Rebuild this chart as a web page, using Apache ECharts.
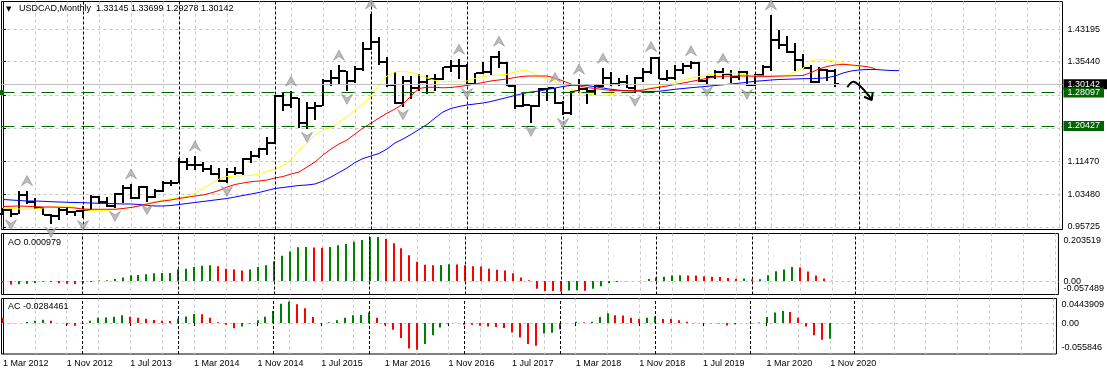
<!DOCTYPE html>
<html><head><meta charset="utf-8">
<script src="https://cdn.jsdelivr.net/npm/echarts@6/dist/echarts.min.js"></script>
<style>html,body{margin:0;padding:0;background:#fff}#c{width:1107px;height:368px}</style>
</head><body><div id="c"></div>
<script>
// ---- data (monthly bars, index 0 = Mar 2012 ... 104 = Nov 2020) ----
const symbolName = 'USDCAD,Monthly';
const timeLabels = ['1 Mar 2012','1 Nov 2012','1 Jul 2013','1 Mar 2014','1 Nov 2014','1 Jul 2015','1 Mar 2016','1 Nov 2016','1 Jul 2017','1 Mar 2018','1 Nov 2018','1 Jul 2019','1 Mar 2020','1 Nov 2020'];
const open = [
0.9890,0.9975,0.9876,1.0339,1.0182,1.0028,0.9865,0.9834,0.9992,0.9930,
0.9950,0.9975,1.0302,1.0162,1.0080,1.0365,1.0517,1.0271,1.0540,1.0301,
1.0428,1.0618,1.0634,1.1139,1.1071,1.1054,1.0962,1.0852,1.0672,1.0903,
1.0875,1.1198,1.1272,1.1436,1.1601,1.2707,1.2504,1.2666,1.2064,1.2436,
1.2488,1.3077,1.3162,1.3320,1.3080,1.3355,1.3840,1.4015,1.3530,1.2988,
1.2550,1.3088,1.2915,1.3060,1.3117,1.3116,1.3415,1.3430,1.3430,1.3012,
1.3280,1.3300,1.3650,1.3503,1.2969,1.2468,1.2495,1.2478,1.2893,1.2900,
1.2560,1.2300,1.2830,1.2885,1.2840,1.2960,1.3150,1.3010,1.3050,1.2910,
1.3160,1.3290,1.3640,1.3130,1.3155,1.3350,1.3430,1.3510,1.3090,1.3180,
1.3295,1.3240,1.3170,1.3285,1.2985,1.3230,1.3420,1.4070,1.3935,1.3770,
1.3580,1.3400,1.3050,1.3335,1.33145];
const high = [
1.0030,1.0020,1.0445,1.0447,1.0275,1.0043,0.9890,1.0020,1.0029,0.9962,
1.0068,1.0335,1.0310,1.0295,1.0389,1.0578,1.0608,1.0560,1.0545,1.0483,
1.0680,1.0700,1.1224,1.1225,1.1279,1.1136,1.1054,1.1000,1.0986,1.1025,
1.1220,1.1386,1.1467,1.1728,1.2735,1.2800,1.2835,1.2676,1.2563,1.2563,
1.3117,1.3350,1.3457,1.3320,1.3440,1.4003,1.4690,1.4130,1.3650,1.3290,
1.3190,1.3210,1.3250,1.3220,1.3250,1.3420,1.3590,1.3600,1.3480,1.3280,
1.3535,1.3690,1.3793,1.3540,1.3000,1.2775,1.2500,1.2915,1.2918,1.2922,
1.2590,1.2840,1.3125,1.2940,1.3000,1.3385,1.3290,1.3160,1.3230,1.3170,
1.3390,1.3665,1.3664,1.3340,1.3470,1.3520,1.3565,1.3530,1.3210,1.3345,
1.3382,1.3350,1.3320,1.3320,1.3240,1.3467,1.4667,1.4300,1.4170,1.3990,
1.3715,1.3455,1.3420,1.3370,1.33699];
const low = [
0.9865,0.9820,0.9874,1.0118,1.0003,0.9853,0.9633,0.9737,0.9860,0.9830,
0.9800,0.9970,1.0132,1.0060,1.0020,1.0142,1.0247,1.0240,1.0180,1.0260,
1.0413,1.0560,1.0620,1.0952,1.0952,1.0897,1.0814,1.0650,1.0620,1.0820,
1.0810,1.1110,1.1230,1.1300,1.1570,1.2353,1.2431,1.1940,1.1920,1.2130,
1.2480,1.2950,1.3008,1.2832,1.3030,1.3327,1.3825,1.3470,1.2940,1.2525,
1.2461,1.2653,1.2830,1.2770,1.2850,1.3100,1.3300,1.3120,1.2970,1.3000,
1.3250,1.3220,1.3400,1.2950,1.2414,1.2447,1.2062,1.2450,1.2600,1.2520,
1.2250,1.2260,1.2790,1.2528,1.2730,1.2944,1.2960,1.2960,1.2900,1.2785,
1.3050,1.3240,1.3120,1.3070,1.3110,1.3250,1.3375,1.3060,1.3015,1.3135,
1.3135,1.3042,1.3110,1.2950,1.2955,1.3200,1.3320,1.3850,1.3760,1.3315,
1.3380,1.3040,1.3040,1.3081,1.29278];
const close = [
0.9975,0.9876,1.0339,1.0182,1.0028,0.9865,0.9834,0.9992,0.9930,0.9950,
0.9975,1.0302,1.0162,1.0080,1.0365,1.0517,1.0271,1.0540,1.0301,1.0428,
1.0618,1.0634,1.1139,1.1071,1.1054,1.0962,1.0852,1.0672,1.0903,1.0875,
1.1198,1.1272,1.1436,1.1601,1.2707,1.2504,1.2666,1.2064,1.2436,1.2488,
1.3077,1.3162,1.3320,1.3080,1.3355,1.3840,1.4015,1.3530,1.2988,1.2550,
1.3088,1.2915,1.3060,1.3117,1.3116,1.3415,1.3430,1.3430,1.3012,1.3280,
1.3300,1.3650,1.3503,1.2969,1.2468,1.2495,1.2478,1.2893,1.2900,1.2560,
1.2300,1.2830,1.2885,1.2840,1.2960,1.3150,1.3010,1.3050,1.2910,1.3160,
1.3290,1.3640,1.3130,1.3155,1.3350,1.3430,1.3510,1.3090,1.3180,1.3295,
1.3240,1.3170,1.3285,1.2985,1.3230,1.3420,1.4070,1.3935,1.3770,1.3580,
1.3400,1.3050,1.3335,1.3315,1.30142];
// Alligator lines (extend into the future)
const jaw = [
1.0233,1.0221,1.0209,1.0197,1.0197,1.0190,1.0180,1.0173,1.0166,1.0161,
1.0156,1.0149,1.0142,1.0137,1.0132,1.0125,1.0125,1.0113,1.0094,1.0077,
1.0077,1.0089,1.0113,1.0137,1.0161,1.0185,1.0209,1.0233,1.0257,1.0293,
1.0329,1.0365,1.0401,1.0449,1.0497,1.0521,1.0545,1.0569,1.0581,1.0605,
1.0677,1.0773,1.0881,1.0989,1.1121,1.1217,1.1277,1.1337,1.1446,1.1590,
1.1686,1.1794,1.1914,1.2034,1.2190,1.2334,1.2418,1.2466,1.2502,1.2526,
1.2550,1.2586,1.2634,1.2682,1.2730,1.2778,1.2814,1.2838,1.2874,1.2910,
1.2946,1.2975,1.2982,1.2970,1.2941,1.2910,1.2879,1.2857,1.2845,1.2838,
1.2831,1.2826,1.2831,1.2855,1.2879,1.2898,1.2917,1.2934,1.2951,1.2970,
1.2987,1.3006,1.3025,1.3047,1.3071,1.3085,1.3102,1.3114,1.3121,1.3126,
1.3133,1.3138,1.3143,1.3157,1.3198,1.3270,1.3318,1.3342,1.3354,1.3354,
1.3342,1.3330,1.3326];
const teeth = [
1.0065,1.0070,1.0077,1.0070,1.0060,1.0053,1.0053,1.0046,1.0041,1.0029,
1.0005,0.9998,0.9998,0.9998,0.9998,1.0017,1.0041,1.0077,1.0125,1.0166,
1.0197,1.0221,1.0257,1.0286,1.0317,1.0341,1.0389,1.0449,1.0533,1.0593,
1.0629,1.0660,1.0677,1.0701,1.0749,1.0785,1.0845,1.0893,1.1013,1.1133,
1.1301,1.1445,1.1565,1.1662,1.1806,1.1950,1.2063,1.2190,1.2303,1.2406,
1.2526,1.2718,1.2898,1.2927,1.2927,1.2915,1.2922,1.2946,1.2970,1.3006,
1.3042,1.3079,1.3103,1.3127,1.3162,1.3191,1.3198,1.3198,1.3198,1.3150,
1.3079,1.3006,1.2958,1.2922,1.2898,1.2874,1.2850,1.2845,1.2845,1.2850,
1.2862,1.2898,1.2927,1.2958,1.2994,1.3030,1.3066,1.3103,1.3143,1.3174,
1.3191,1.3196,1.3200,1.3198,1.3192,1.3188,1.3190,1.3195,1.3200,1.3205,
1.3210,1.3282,1.3366,1.3426,1.3462,1.3479,1.3462,1.3446,1.3422,1.3378];
const lips = [
1.0022,1.0017,1.0005,0.9998,1.0005,1.0029,1.0053,1.0070,1.0077,1.0053,
0.9993,0.9969,0.9964,0.9974,0.9993,1.0017,1.0046,1.0077,1.0125,1.0173,
1.0221,1.0252,1.0281,1.0305,1.0389,1.0497,1.0617,1.0725,1.0785,1.0797,
1.0802,1.0809,1.0845,1.0905,1.0965,1.1049,1.1181,1.1422,1.1590,1.1782,
1.1902,1.1962,1.2094,1.2214,1.2382,1.2526,1.2718,1.2982,1.3198,1.3294,
1.3318,1.3282,1.3222,1.3150,1.3090,1.3066,1.3061,1.3061,1.3078,1.3138,
1.3186,1.3210,1.3222,1.3239,1.3294,1.3342,1.3294,1.3186,1.3138,1.3066,
1.2946,1.2862,1.2814,1.2778,1.2735,1.2730,1.2754,1.2778,1.2807,1.2838,
1.2874,1.2922,1.2946,1.2994,1.3037,1.3102,1.3150,1.3186,1.3222,1.3246,
1.3258,1.3263,1.3246,1.3222,1.3205,1.3198,1.3198,1.3210,1.3222,1.3294,
1.3390,1.3558,1.3594,1.3582,1.3558,1.3498,1.3462,1.3421];
// Awesome / Accelerator oscillators
const ao = [
-0.006,-0.015,-0.014,-0.012,-0.008,-0.003,-0.004,-0.009,-0.012,-0.013,
-0.009,-0.004,0.002,0.004,0.009,0.015,0.025,0.026,0.029,0.033,
0.034,0.0345,0.050,0.053,0.060,0.065,0.068,0.063,0.053,0.050,
0.045,0.050,0.060,0.068,0.085,0.108,0.127,0.145,0.146,0.144,
0.143,0.146,0.153,0.159,0.168,0.176,0.187,0.189,0.181,0.162,
0.140,0.110,0.083,0.070,0.068,0.069,0.072,0.071,0.068,0.063,
0.062,0.053,0.048,0.045,0.033,0.015,0.003,-0.033,-0.042,-0.043,
-0.045,-0.040,-0.0395,-0.041,-0.033,-0.022,-0.008,-0.004,-0.001,0.0005,
0.001,0.009,0.015,0.018,0.024,0.025,0.024,0.0235,0.021,0.018,
0.0175,0.013,0.010,0.0105,0.007,0.0075,0.025,0.042,0.050,0.060,
0.058,0.041,0.024,0.011,0.000979];
const ac = [
0.0095,-0.0005,0.0000,0.002,0.004,0.006,0.004,0.000,-0.0025,-0.005,
-0.001,0.004,0.0095,0.010,0.0114,0.014,0.0114,0.0095,0.0076,0.0057,
0.0044,0.0038,0.008,0.012,0.0165,0.016,0.0095,0.0013,-0.003,-0.0095,
-0.006,-0.0006,0.005,0.0114,0.022,0.035,0.039,0.034,0.027,0.011,
-0.0002,0.0013,0.005,0.0095,0.014,0.0145,0.019,0.0095,-0.003,-0.012,
-0.027,-0.046,-0.048,-0.038,-0.022,-0.008,-0.001,0.0005,-0.003,-0.0032,
-0.005,-0.006,-0.007,-0.009,-0.017,-0.026,-0.038,-0.041,-0.019,-0.0176,
-0.011,0.000,0.0025,0.001,0.0025,0.011,0.0176,0.014,0.0138,0.0095,
0.0075,0.0095,0.012,0.0075,0.0074,0.005,0.0025,0.0005,-0.0002,-0.0005,
-0.0007,-0.0045,-0.002,0.0002,-0.0003,0.001,0.011,0.019,0.022,0.020,
0.0095,-0.0063,-0.022,-0.030,-0.0284461];
const fractalUp = [3,16,24,36,42,46,57,62,69,72,75,81,86,90,96];
const fractalDown = [1,6,10,14,18,28,38,43,50,58,66,70,79,88,93];
const separators = [10,22,34,46,58,70,82,94,107];
const priceTicks = [1.43195,1.35440,1.27430,1.19460,1.11470,1.03480,0.95725];
const levels = [1.28097,1.20427];
const lastPrice = 1.30142;
const aoTickLabels = ['0.203519','0.00','-0.057489'];
const acTickLabels = ['0.0443909','0.00','-0.055846'];
const arrowPath = [[105.54,1.2927],[106.29,1.3061],[107.13,1.2958],[108.16,1.2742],[108.59,1.2622]];
const arrowHead = [[107.63,1.2701],[108.59,1.2622],[108.71,1.2797]];

// ---- layout ----
const FONT = 'Liberation Sans';
const X_MIN = -0.1875, X_MAX = 132.4375;
const Y_MIN = 0.95125, Y_MAX = 1.49870;
const AO_RANGE = [-0.057489, 0.203519];
const AC_RANGE = [-0.055846, 0.0443909];
const gridVals = []; for (let k = 0; k <= 132; k += 4) gridVals.push(k);
const labelVals = timeLabels.map((_, k) => k * 8);
const GRAY = '#c8c8c8', GREEN = '#006400';

function xAx(gi, showLabels) {
  return {
    type: 'value', gridIndex: gi, min: X_MIN, max: X_MAX,
    axisLine: {show: false}, axisTick: {show: false, customValues: gridVals},
    splitLine: {show: true, lineStyle: {color: GRAY, type: [3, 3], width: 1}},
    axisLabel: {show: showLabels, customValues: labelVals, formatter: v => timeLabels[Math.round(v / 8)] || '',
      align: 'left', margin: 5, fontSize: 9, color: '#000', fontFamily: FONT}
  };
}
// outer labels (max at top, min at bottom) of an indicator window
function subY(gi, range, labels, padT, padB) {
  return {
    type: 'value', gridIndex: gi, position: 'right', min: range[0], max: range[1],
    axisLine: {show: true, lineStyle: {color: '#000'}},
    axisTick: {show: false, customValues: [0]},
    splitLine: {show: true, lineStyle: {color: GRAY, type: [3, 3], width: 1}},
    axisLabel: {customValues: [range[1], range[0]], showMinLabel: true, showMaxLabel: true,
      margin: 5, fontSize: 9, color: '#000', fontFamily: FONT,
      formatter: v => v === range[1] ? '{t|' + labels[0] + '}' : '{b|' + labels[2] + '}',
      rich: {t: {padding: [padT, 0, 0, 0], fontSize: 9, color: '#000', fontFamily: FONT},
             b: {padding: [0, 0, padB, 0], fontSize: 9, color: '#000', fontFamily: FONT}}}
  };
}
// zero label of an indicator window (separate axis so it is never hidden by overlap)
function zeroY(gi, range, labels) {
  return {
    type: 'value', gridIndex: gi, position: 'right', min: range[0], max: range[1],
    axisLine: {show: false}, splitLine: {show: false},
    axisTick: {show: false, customValues: [0]},
    axisLabel: {customValues: [0], formatter: () => labels[1], margin: 5, fontSize: 9, color: '#000', fontFamily: FONT}
  };
}
function histItem(arr) {
  return function (params, api) {
    const i = api.value(0), v = api.value(1);
    const p0 = api.coord([i, 0]), p1 = api.coord([i, v]);
    const k = params.dataIndex;
    const up = k > 0 && arr[k] > arr[k - 1];
    const cx = Math.round(p0[0]);
    return {type: 'rect', shape: {x: cx - 1, y: Math.min(p0[1], p1[1]), width: 2, height: Math.abs(p1[1] - p0[1])},
      style: {fill: up ? '#008000' : '#ff0000'}};
  };
}
const sepLine = {silent: true, symbol: 'none', animation: false, label: {show: false},
  lineStyle: {color: '#000', type: [3, 2], width: 1}, data: separators.map(v => ({xAxis: v}))};

const boxLabel = (bg, txt, padR) => ({show: true, position: 'end', distance: 1, formatter: txt,
  backgroundColor: bg, color: '#fff', padding: [0, padR, 0, 4], lineHeight: 10, fontSize: 9, fontFamily: FONT});

const option = {
  animation: false,
  textStyle: {fontFamily: FONT},
  title: [
    {text: '{tri|▼}   ' + symbolName + '  ' + [open[104], high[104], low[104], close[104]].map(v => v.toFixed(5)).join(' '),
      left: 6, top: 3, padding: 0,
      textStyle: {fontSize: 9, fontWeight: 'normal', color: '#000', fontFamily: FONT, lineHeight: 12,
        rich: {tri: {fontSize: 7, color: '#000', fontFamily: 'DejaVu Sans'}}}},
    {text: 'AO ' + ao[ao.length - 1], left: 8, top: 237, padding: 0,
      textStyle: {fontSize: 9, fontWeight: 'normal', color: '#000', fontFamily: FONT, lineHeight: 12}},
    {text: 'AC ' + ac[ac.length - 1], left: 8, top: 301, padding: 0,
      textStyle: {fontSize: 9, fontWeight: 'normal', color: '#000', fontFamily: FONT, lineHeight: 12}}
  ],
  grid: [
    {left: 1.5, width: 1061, top: 1.5, height: 228, show: true, borderColor: '#000', borderWidth: 1},
    {left: 1.5, width: 1061, top: 233.5, height: 61, show: true, borderColor: '#000', borderWidth: 1},
    {left: 1.5, width: 1061, top: 298.5, height: 56.5, show: true, borderColor: '#000', borderWidth: 1}
  ],
  xAxis: [xAx(0, false), xAx(1, false), xAx(2, true),
    {type: 'value', gridIndex: 2, min: X_MIN, max: X_MAX, position: 'bottom',
      axisLine: {show: false}, splitLine: {show: false}, axisLabel: {show: false},
      axisTick: {show: true, length: 3, customValues: labelVals, lineStyle: {color: '#000'}}}],
  yAxis: [
    {type: 'value', gridIndex: 0, position: 'right', min: Y_MIN, max: Y_MAX,
      axisLine: {show: true, lineStyle: {color: '#000'}},
      axisTick: {show: true, length: 3, customValues: priceTicks, lineStyle: {color: '#000'}},
      splitLine: {show: true, lineStyle: {color: GRAY, type: [3, 3], width: 1}},
      axisLabel: {customValues: priceTicks, showMinLabel: true, showMaxLabel: true,
        formatter: v => v.toFixed(5), margin: 5, fontSize: 9, color: '#000', fontFamily: FONT}},
    subY(1, AO_RANGE, aoTickLabels, 14, 12),
    subY(2, AC_RANGE, acTickLabels, 12, 12),
    zeroY(1, AO_RANGE, aoTickLabels),
    zeroY(2, AC_RANGE, acTickLabels)
  ],
  series: [
    {type: 'line', name: 'Lips', xAxisIndex: 0, yAxisIndex: 0, data: lips.map((v, i) => [i, v]),
      symbol: 'none', lineStyle: {color: '#ffff00', width: 1}, z: 4, silent: true},
    {type: 'line', name: 'Jaw', xAxisIndex: 0, yAxisIndex: 0, data: jaw.map((v, i) => [i, v]),
      symbol: 'none', lineStyle: {color: '#0000ff', width: 1}, z: 4, silent: true,
      markLine: sepLine},
    {type: 'line', name: 'Teeth', xAxisIndex: 0, yAxisIndex: 0, data: teeth.map((v, i) => [i, v]),
      symbol: 'none', lineStyle: {color: '#ff0000', width: 1}, z: 4, silent: true,
      markLine: {silent: true, symbol: 'none', animation: false,
        data: [
          {yAxis: lastPrice, lineStyle: {color: '#c0c0c0', type: 'solid', width: 1}, label: boxLabel('#000', lastPrice.toFixed(5), 12)},
          {yAxis: levels[0], symbol: ['emptyRect', 'emptyRect'], symbolSize: 5,
            lineStyle: {color: GREEN, type: [13, 7], width: 1}, label: boxLabel(GREEN, levels[0].toFixed(5), 4)},
          {yAxis: levels[1], lineStyle: {color: GREEN, type: [13, 7], width: 1}, label: boxLabel(GREEN, levels[1].toFixed(5), 4)}
        ]}},
    {type: 'custom', name: 'USDCAD', xAxisIndex: 0, yAxisIndex: 0, z: 3,
      data: open.map((o, i) => [i, o, high[i], low[i], close[i]]),
      encode: {x: 0, y: [1, 2, 3, 4]},
      renderItem: function (params, api) {
        const i = api.value(0);
        const pH = api.coord([i, api.value(2)]), pL = api.coord([i, api.value(3)]);
        const pO = api.coord([i, api.value(1)]), pC = api.coord([i, api.value(4)]);
        const cx = Math.round(pH[0]);
        return {type: 'group', children: [
          {type: 'rect', shape: {x: cx - 1, y: Math.round(pH[1]), width: 2, height: Math.max(1, Math.round(pL[1]) - Math.round(pH[1]))}, style: {fill: '#000'}},
          {type: 'rect', shape: {x: cx - 4, y: Math.round(pO[1]) - 1, width: 3, height: 2}, style: {fill: '#000'}},
          {type: 'rect', shape: {x: cx + 1, y: Math.round(pC[1]) - 1, width: 3, height: 2}, style: {fill: '#000'}}
        ]};
      }},
    {type: 'scatter', name: 'FractalUp', xAxisIndex: 0, yAxisIndex: 0, z: 5, silent: true,
      data: fractalUp.map(i => [i, high[i]]),
      symbol: 'path://M6,0 L12,11 L6,7 L0,11 Z', symbolSize: [11, 10], symbolOffset: [0, -10],
      itemStyle: {color: '#ababab', borderColor: '#767676', borderWidth: 0.6}},
    {type: 'scatter', name: 'FractalDown', xAxisIndex: 0, yAxisIndex: 0, z: 5, silent: true,
      data: fractalDown.map(i => [i, low[i]]),
      symbol: 'path://M0,0 L6,4 L12,0 L6,11 Z', symbolSize: [11, 10], symbolOffset: [0, 8],
      itemStyle: {color: '#ababab', borderColor: '#767676', borderWidth: 0.6}},
    {type: 'line', name: 'Arrow', xAxisIndex: 0, yAxisIndex: 0, data: arrowPath, smooth: 0.4, z: 6, silent: true,
      symbol: 'none', lineStyle: {color: '#000', width: 2}},
    {type: 'line', name: 'ArrowHead', xAxisIndex: 0, yAxisIndex: 0, data: arrowHead, z: 6, silent: true,
      symbol: 'none', lineStyle: {color: '#000', width: 2}},
    {type: 'custom', name: 'AO', xAxisIndex: 1, yAxisIndex: 1, data: ao.map((v, i) => [i, v]),
      encode: {x: 0, y: 1}, renderItem: histItem(ao), z: 3},
    {type: 'line', name: 'aoSep', xAxisIndex: 1, yAxisIndex: 1, data: [], markLine: sepLine},
    {type: 'custom', name: 'AC', xAxisIndex: 2, yAxisIndex: 2, data: ac.map((v, i) => [i, v]),
      encode: {x: 0, y: 1}, renderItem: histItem(ac), z: 3},
    {type: 'line', name: 'acSep', xAxisIndex: 2, yAxisIndex: 2, data: [], markLine: sepLine}
  ]
};
const chart = echarts.init(document.getElementById('c'), null, {renderer: 'canvas'});
chart.setOption(option);
</script>
</body></html>
